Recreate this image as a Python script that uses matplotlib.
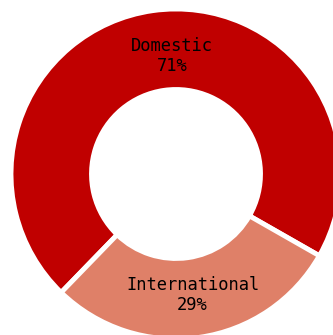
import matplotlib.pyplot as plt

# Revenue split
categories = ['Domestic', 'International']
shares = [71, 29]
colors = ['#C00000', '#DF8068']

W, H = 333, 335
fig = plt.figure(figsize=(W / 100, H / 100), dpi=100)
ax = fig.add_axes([0, 0, 1, 1])

cx, cy = 176, H - 174
outer_r = 165
ring_w = 80.5

wedges, _ = ax.pie(shares, colors=colors, startangle=-29.7, counterclock=True,
                   center=(cx, cy), radius=outer_r, frame=True,
                   wedgeprops=dict(width=ring_w, edgecolor='white', linewidth=3.5))
ax.set_xlim(0, W)
ax.set_ylim(0, H)
ax.set_aspect('equal')
ax.axis('off')

label_pos = [(172, H - 56), (192.5, H - 295)]
for name, val, (x, y) in zip(categories, shares, label_pos):
    ax.text(x, y, f'{name}\n{val}%', ha='center', va='center',
            fontsize=12.3, family='DejaVu Sans Mono', color='black',
            linespacing=1.2)

fig.savefig('out.png', dpi=100)
